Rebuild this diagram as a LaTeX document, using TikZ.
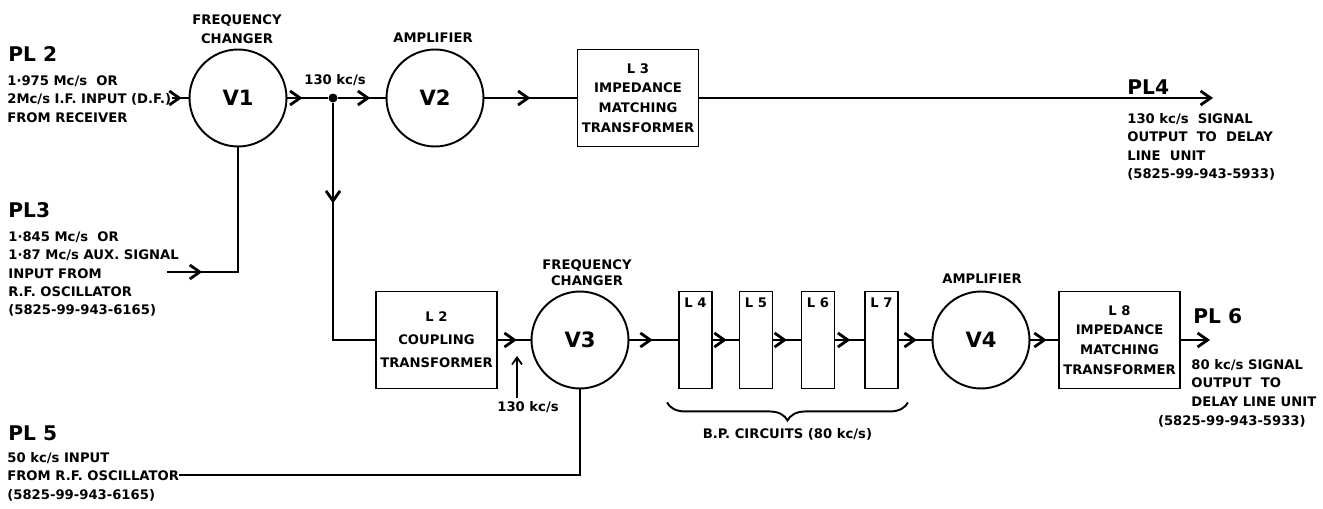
\documentclass[tikz,border=0pt]{standalone}
\usepackage{fontspec}
\setmainfont{DejaVu Sans}
\usetikzlibrary{arrows.meta,decorations.markings,decorations.pathreplacing}
\tikzset{
  sig/.style={line width=1.6pt},
  flow/.style={sig,decoration={markings,mark=at position #1 with {\arrow{Straight Barb[length=2mm,width=2.8mm]}}},postaction={decorate}},
  outarrow/.style={sig,-{Straight Barb[length=2mm,width=2.8mm]}},
  valve/.style={draw,circle,line width=1.1pt,minimum size=1.94cm,inner sep=0pt,font=\fontsize{12}{12}\selectfont\bfseries},
  unitbox/.style={draw,line width=1.1pt,minimum width=2.42cm,minimum height=1.94cm,inner sep=0pt,align=center},
  filt/.style={draw,line width=1.1pt,minimum width=0.66cm,minimum height=1.94cm,inner sep=0pt},
  note/.style={font=\fontsize{7.5}{10.5}\selectfont\bfseries,inner sep=0pt,align=left},
  plug/.style={font=\fontsize{11.5}{12}\selectfont\bfseries,inner sep=0pt,anchor=west},
}
\begin{document}
\begin{tikzpicture}[x=.02cm,y=-.02cm]
\useasboundingbox (0,0) rectangle (1323,509);
\node[valve] (V1) at (238,98) {V1};\node[valve] (V2) at (435,98) {V2};
\node[valve] (V3) at (580,340) {V3};\node[valve] (V4) at (981,340) {V4};
\node[note,align=center] (fc1) at (237,29) {FREQUENCY\\CHANGER};
\node[note,align=center] (amp1) at (433,38) {AMPLIFIER};
\node[note,align=center,font=\fontsize{7.5}{9}\selectfont\bfseries] (fc3) at (587,273) {FREQUENCY\\CHANGER};
\node[note,align=center] (amp4) at (982,279) {AMPLIFIER};
\node[unitbox,font=\fontsize{7.5}{11.3}\selectfont\bfseries] (L3) at (638,98) {L 3\\IMPEDANCE\\MATCHING\\TRANSFORMER};
\node[unitbox,font=\fontsize{7.5}{13}\selectfont\bfseries] (L2) at (436.5,340) {L 2\\COUPLING\\TRANSFORMER};
\node[unitbox,font=\fontsize{7.5}{11.3}\selectfont\bfseries] (L8) at (1119.5,340) {L 8\\IMPEDANCE\\MATCHING\\TRANSFORMER};
\foreach \n/\x in {4/695.5,5/756,6/818,7/881.5}
  \node[filt,label={[anchor=north,inner sep=4pt,font=\fontsize{7.5}{9}\selectfont\bfseries]north:L \n}] (L\n) at (\x,340) {};
\node[circle,fill,inner sep=0pt,minimum size=1.8mm] (tap) at (333,98) {};
\node[note] (f130a) at (335,80) {130 kc/s};
\node[note] (f130b) at (528,407) {130 kc/s};
\coordinate (f130tip) at (517,356);
\node[plug] (PL2) at (8,54.5) {PL 2};
\node[note,anchor=north west] (pl2desc) at (7,75) {1·975 Mc/s \ OR\\2Mc/s I.F. INPUT (D.F.)\\FROM RECEIVER};
\node[plug] (PL3) at (8,210) {PL3};
\node[note,anchor=north west] (pl3desc) at (8,231) {1·845 Mc/s \ OR\\1·87 Mc/s AUX. SIGNAL\\INPUT FROM\\R.F. OSCILLATOR\\(5825-99-943-6165)};
\node[plug] (PL5) at (8,433) {PL 5};
\node[note,anchor=north west] (pl5desc) at (7,452) {50 kc/s INPUT\\FROM R.F. OSCILLATOR\\(5825-99-943-6165)};
\node[plug] (PL4) at (1127,87) {PL4};
\node[note,anchor=north west] (pl4desc) at (1127,113) {130 kc/s \ SIGNAL\\OUTPUT \ TO \ DELAY\\LINE \ UNIT\\(5825-99-943-5933)};
\node[plug] (PL6) at (1193,316) {PL 6};
\node[note,anchor=north west] (pl6desc) at (1191,359) {80 kc/s SIGNAL\\OUTPUT \ TO\\DELAY LINE UNIT};
\node[note,anchor=north east] (pl6code) at (1306,415) {(5825-99-943-5933)};
\coordinate (pl2in) at (pl2desc.east);\coordinate (pl3in) at (167,272);\coordinate (pl5in) at (pl5desc.east);
\coordinate (pl4out) at (1213,98);\coordinate (pl6out) at (1210,340);
\draw[flow=0.6] (pl2in |- V1) -- (V1);
\draw[flow=0.37] (V1) -- (tap);
\draw[flow=0.68] (tap) -- (V2);
\draw[flow=0.5] (V2) -- (L3);
\draw[outarrow] (L3) -- (pl4out);
\draw[flow=0.18] (pl3in) -| (V1.south);
\draw[flow=0.36] (tap) |- (L2.west);
\draw[flow=0.58] (L2) -- (V3);
\draw[flow=0.48] (V3) -- (L4);
\draw[flow=0.54] (L4) -- (L5);
\draw[flow=0.5] (L5) -- (L6);
\draw[flow=0.52] (L6) -- (L7);
\draw[flow=0.55] (L7) -- (V4);
\draw[flow=0.59] (V4) -- (L8);
\draw[outarrow] (L8) -- (pl6out);
\draw[sig] (pl5in |- 0,475) -| (V3.south);
\draw[line width=1pt,-{Straight Barb[length=1.4mm,width=2mm]}] (f130tip |- f130b.north) ++(0,-3) -- (f130tip);
\draw[line width=1.1pt,decorate,decoration={brace,mirror,amplitude=3.6mm}] ([xshift=-2.2mm,yshift=-2.6mm]L4.south west) -- ([xshift=1.8mm,yshift=-2.6mm]L7.south east) node[note,midway,below=5mm] (bp) {B.P. CIRCUITS (80 kc/s)};
\end{tikzpicture}
\end{document}
